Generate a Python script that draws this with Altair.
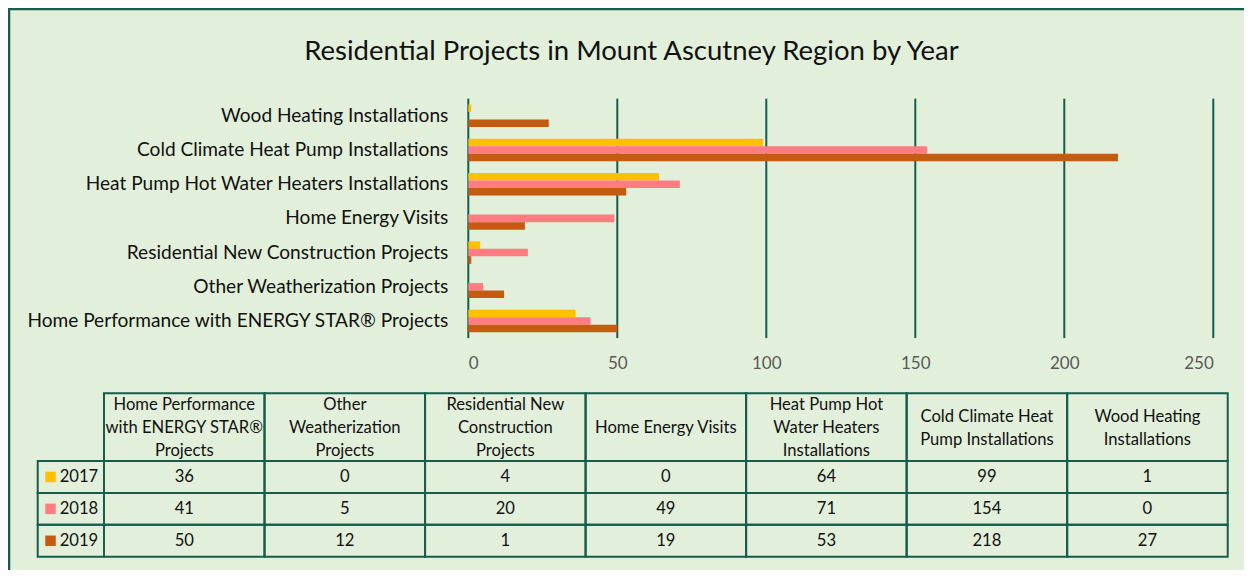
import altair as alt
import pandas as pd

# ---------------- data ----------------
categories = [
    "Home Performance with ENERGY STAR® Projects",
    "Other Weatherization Projects",
    "Residential New Construction Projects",
    "Home Energy Visits",
    "Heat Pump Hot Water Heaters Installations",
    "Cold Climate Heat Pump Installations",
    "Wood Heating Installations",
]
header_labels = [
    "Home Performance\nwith ENERGY STAR®\nProjects",
    "Other\nWeatherization\nProjects",
    "Residential New\nConstruction\nProjects",
    "Home Energy Visits",
    "Heat Pump Hot\nWater Heaters\nInstallations",
    "Cold Climate Heat\nPump Installations",
    "Wood Heating\nInstallations",
]
years = ["2017", "2018", "2019"]
values_2017 = [36, 0, 4, 0, 64, 99, 1]
values_2018 = [41, 5, 20, 49, 71, 154, 0]
values_2019 = [50, 12, 1, 19, 53, 218, 27]
year_colors = ["#FFC000", "#FF7C80", "#C55A11"]
x_ticks = [0, 50, 100, 150, 200, 250]
title_text = "Residential Projects in Mount Ascutney Region by Year"

# ---------------- style / layout ----------------
BG = "#E2EFDA"
GREEN = "#145E4B"
FONT = "Lato"
W, H = 1245, 571
BAR_X_RANGE = [459.3, 1204.3]
BAR_Y_RANGE = [89.65, 329.1]
TAB_X_RANGE = [95, 1218.7]
LEG_X_RANGE = [28.7, 95]
HEAD_Y_RANGE = [384.3, 452]
HEAD_CENTER = (HEAD_Y_RANGE[0] + HEAD_Y_RANGE[1]) / 2 + 1
HEAD_LINE_RANGE = [HEAD_CENTER - 23, HEAD_CENTER + 23]
ROW_Y_RANGE = [452, 547.7]

series = {"2017": values_2017, "2018": values_2018, "2019": values_2019}
rows = []
for y in years:
    for c, v in zip(categories, series[y]):
        rows.append({"category": c, "year": y, "value": v})
df = pd.DataFrame(rows)

header_df = pd.DataFrame({"category": categories, "row": ["header"] * len(categories)})
line_rows = []
for c, lab in zip(categories, header_labels):
    parts = lab.split("\n")
    n = len(parts)
    for i, p in enumerate(parts):
        line_rows.append({"category": c, "line": p, "pos": i - (n - 1) / 2})
header_lines_df = pd.DataFrame(line_rows)
legend_df = pd.DataFrame({"year": years, "key": ["legend"] * len(years)})
grid_df = pd.DataFrame({"tick": x_ticks})

color_enc = alt.Color("year:N", scale=alt.Scale(domain=years, range=year_colors), legend=None)


def bar_x_scale():
    return alt.Scale(domain=[0, 250], nice=False, zero=False, range=BAR_X_RANGE)


# ---------------- gridlines + bars ----------------
grid = alt.Chart(grid_df).mark_rule(color=GREEN, strokeWidth=2).encode(
    x=alt.X("tick:Q", scale=bar_x_scale(), axis=None),
    y=alt.YDatum(0, type="quantitative",
                 scale=alt.Scale(domain=[0, 1], range=BAR_Y_RANGE, nice=False, zero=False),
                 axis=None),
    y2=alt.Y2Datum(1),
)

bars = alt.Chart(df).mark_bar().encode(
    x=alt.X("value:Q", scale=bar_x_scale(),
            axis=alt.Axis(orient="bottom", offset=BAR_Y_RANGE[1] - H, values=x_ticks,
                          grid=False, domain=False, ticks=False, labelColor="#595959",
                          labelFontSize=17, labelPadding=17, title=None, labelFont=FONT)),
    y=alt.Y("category:N", sort=None,
            scale=alt.Scale(domain=categories[::-1], range=BAR_Y_RANGE,
                            paddingInner=0.342, paddingOuter=0.171),
            axis=alt.Axis(orient="left", offset=-BAR_X_RANGE[0], domain=False,
                          ticks=False, grid=False, labelColor="#111111",
                          labelFontSize=19.1, labelPadding=20.5, labelLimit=0,
                          title=None, labelFont=FONT)),
    yOffset=alt.YOffset("year:N", scale=alt.Scale(domain=years, paddingInner=0, paddingOuter=0)),
    color=color_enc,
)


# ---------------- table ----------------
def col_x():
    return alt.X("category:N", scale=alt.Scale(type="band", domain=categories,
                 range=TAB_X_RANGE, paddingInner=0, paddingOuter=0), axis=None)


def row_y():
    return alt.Y("year:N", scale=alt.Scale(type="band", domain=years,
                 range=ROW_Y_RANGE, paddingInner=0, paddingOuter=0), axis=None)


def head_y():
    return alt.Y("row:N", scale=alt.Scale(type="band", domain=["header"],
                 range=HEAD_Y_RANGE, paddingInner=0, paddingOuter=0), axis=None)


def leg_x(bp=None):
    kw = {} if bp is None else {"bandPosition": bp}
    return alt.X("key:N", scale=alt.Scale(type="band", domain=["legend"],
                 range=LEG_X_RANGE, paddingInner=0, paddingOuter=0), axis=None, **kw)


TAB_FS = 16.6

cell_rect = alt.Chart(df).mark_rect(fillOpacity=0, stroke=GREEN, strokeWidth=2).encode(
    x=col_x(), y=row_y())
cell_text = alt.Chart(df).mark_text(fontSize=TAB_FS, color="#111111", font=FONT).encode(
    x=col_x(), y=row_y(), text="value:Q")

head_rect = alt.Chart(header_df).mark_rect(fillOpacity=0, stroke=GREEN, strokeWidth=2).encode(
    x=col_x(), y=head_y())
head_text = alt.Chart(header_lines_df).mark_text(fontSize=TAB_FS, color="#111111", font=FONT,
                                                 baseline="middle").encode(
    x=col_x(),
    y=alt.Y("pos:Q", scale=alt.Scale(domain=[-1, 1], range=HEAD_LINE_RANGE,
                                     nice=False, zero=False), axis=None),
    text="line:N")

leg_rect = alt.Chart(legend_df).mark_rect(fillOpacity=0, stroke=GREEN, strokeWidth=2).encode(
    x=leg_x(), y=row_y())
leg_square = alt.Chart(legend_df).mark_square(size=110, opacity=1, xOffset=12.8).encode(
    x=leg_x(0), y=row_y(), color=color_enc)
leg_text = alt.Chart(legend_df).mark_text(fontSize=TAB_FS, color="#111111", font=FONT,
                                          align="left", dx=22).encode(
    x=leg_x(0), y=row_y(), text="year:N")

chart = alt.layer(
    grid, bars, cell_rect, cell_text, head_rect, head_text, leg_rect, leg_square, leg_text
).resolve_scale(
    x="independent", y="independent"
).properties(
    width=W, height=H,
    padding={"left": 1, "top": 1, "right": -10, "bottom": -10},
    autosize=alt.AutoSizeParams(type="none"),
    title=alt.TitleParams(title_text, fontSize=27.5, font=FONT, fontWeight="normal",
                          color="#111111", anchor="middle", frame="group", offset=-56.5),
).configure(
    font=FONT, background="white",
    view=alt.ViewConfig(fill=BG, stroke=GREEN, strokeWidth=2.5),
)

chart.save("out.html", embed_options={"renderer": "svg", "actions": False})
